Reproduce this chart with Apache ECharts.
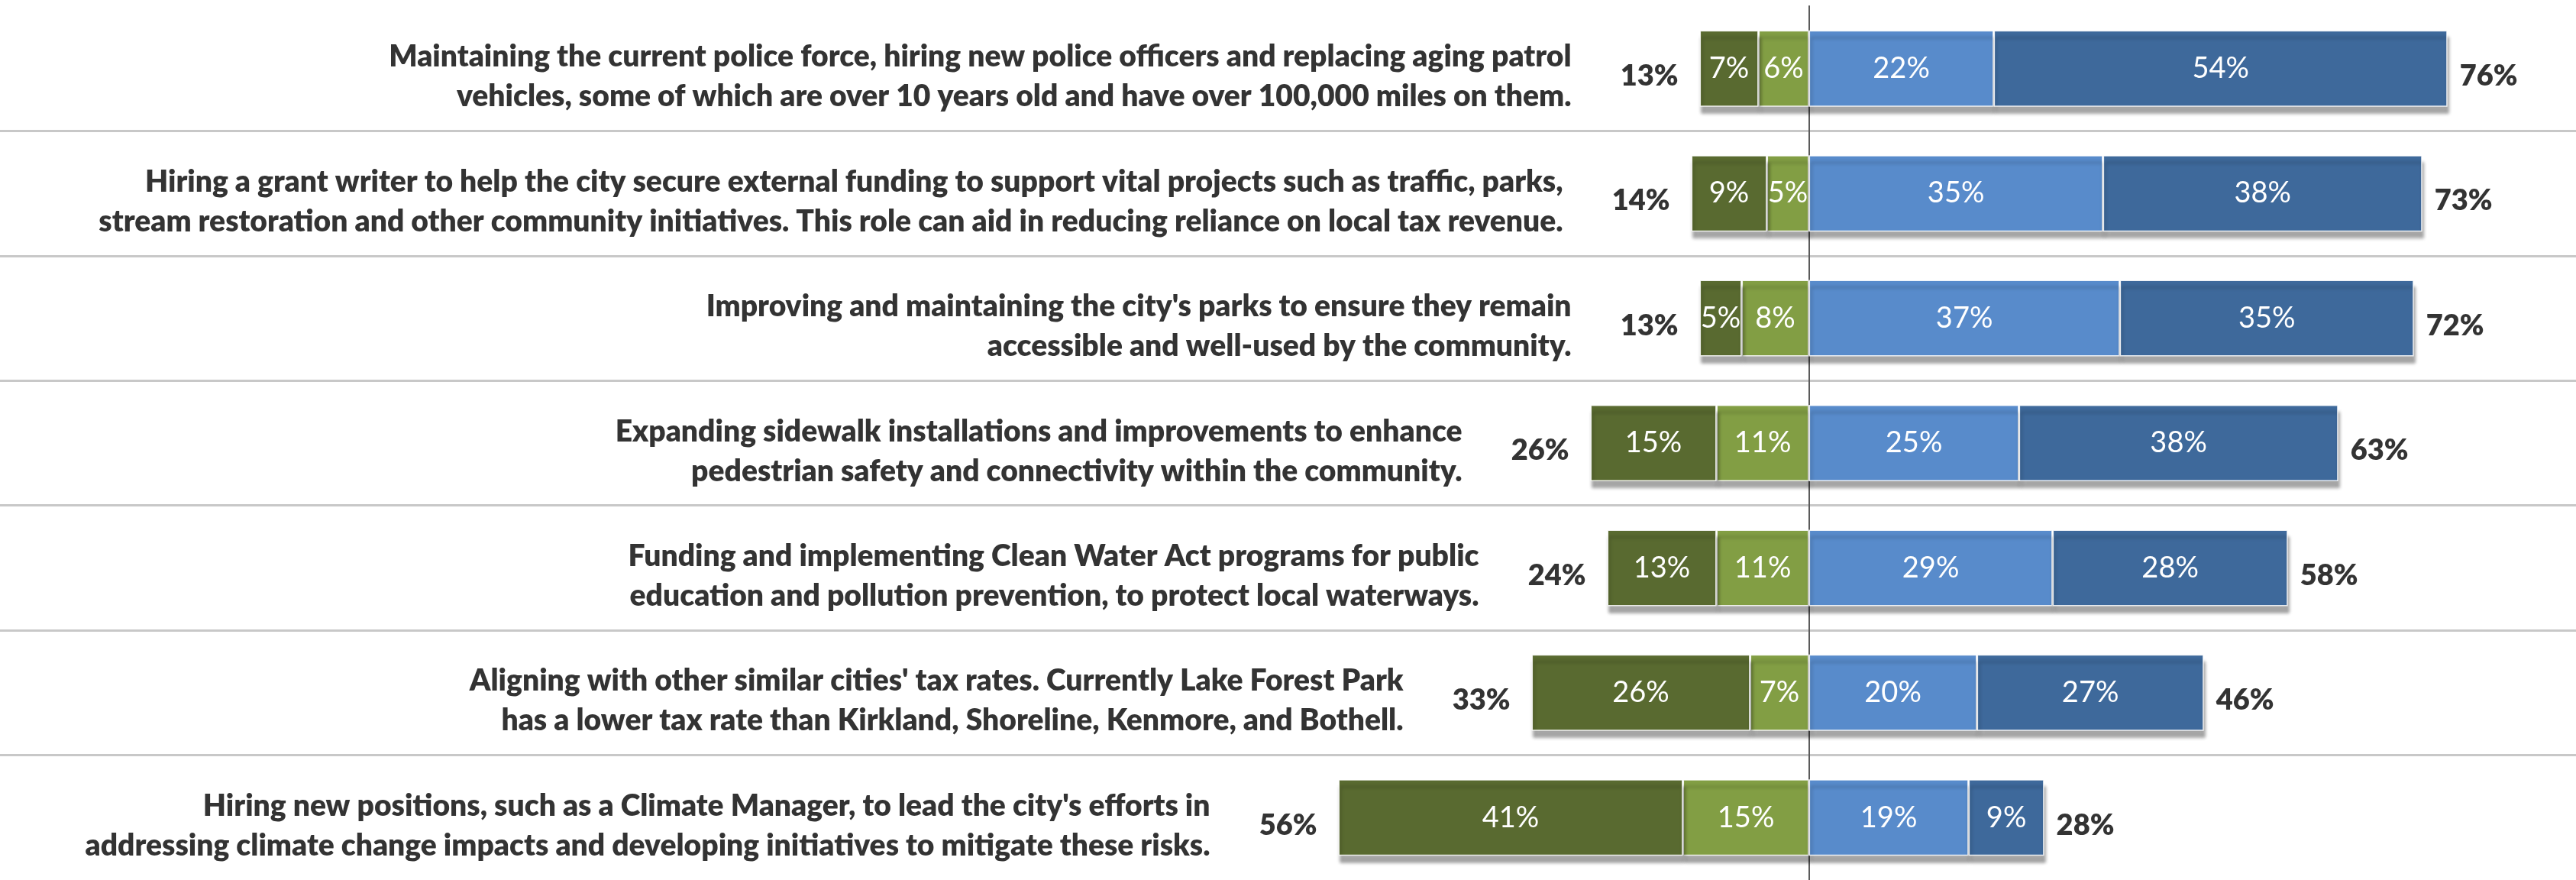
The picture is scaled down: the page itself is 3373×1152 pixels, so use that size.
<!DOCTYPE html>
<html>
<head>
<meta charset="utf-8">
<script src="https://cdn.jsdelivr.net/npm/echarts@6/dist/echarts.min.js"></script>
<style>
html,body{margin:0;padding:0;background:#ffffff;}
#chart{width:3373px;height:1152px;}
</style>
</head>
<body>
<div id="chart"></div>
<script>
const categories = [
  "Maintaining the current police force, hiring new police officers and replacing aging patrol\nvehicles, some of which are over 10 years old and have over 100,000 miles on them.",
  "Hiring a grant writer to help the city secure external funding to support vital projects such as traffic, parks,\nstream restoration and other community initiatives. This role can aid in reducing reliance on local tax revenue.",
  "Improving and maintaining the city's parks to ensure they remain\naccessible and well-used by the community.",
  "Expanding sidewalk installations and improvements to enhance\npedestrian safety and connectivity within the community.",
  "Funding and implementing Clean Water Act programs for public\neducation and pollution prevention, to protect local waterways.",
  "Aligning with other similar cities' tax rates. Currently Lake Forest Park\nhas a lower tax rate than Kirkland, Shoreline, Kenmore, and Bothell.",
  "Hiring new positions, such as a Climate Manager, to lead the city's efforts in\naddressing climate change impacts and developing initiatives to mitigate these risks."
];
const stronglyOppose = [7, 9, 5, 15, 13, 26, 41];
const somewhatOppose = [6, 5, 8, 11, 11, 7, 15];
const somewhatSupport = [22, 35, 37, 25, 29, 20, 19];
const stronglySupport = [54, 38, 35, 38, 28, 27, 9];
const opposeTotal = [13, 14, 13, 26, 24, 33, 56];
const supportTotal = [76, 73, 72, 63, 58, 46, 28];

const FONT = 'Lato, "Open Sans", sans-serif';
const leftEnd = categories.map((c, i) => [-(stronglyOppose[i] + somewhatOppose[i]), i]);
const rightEnd = categories.map((c, i) => [somewhatSupport[i] + stronglySupport[i], i]);

function barSeries(name, data, color, neg) {
  return {
    name: name,
    type: 'bar',
    stack: 'all',
    barWidth: 100,
    data: data.map(v => neg ? -v : v),
    itemStyle: {
      color: color,
      borderColor: 'rgba(255,255,255,0.85)',
      borderWidth: 1.5,
      shadowColor: 'rgba(0,0,0,0.35)',
      shadowOffsetY: 9,
      shadowOffsetX: 2,
      shadowBlur: 4
    },
    label: {
      show: true,
      position: 'inside',
      color: '#ffffff',
      fontFamily: FONT,
      fontSize: 38,
      formatter: p => Math.abs(p.value) + '%'
    }
  };
}

const chart = echarts.init(document.getElementById('chart'), null, {renderer: 'canvas'});
chart.setOption({
  backgroundColor: '#ffffff',
  animation: false,
  grid: {left: 0, right: 0, top: 8, bottom: -5, containLabel: false},
  xAxis: {
    type: 'value', min: -215.3, max: 91.3, show: false
  },
  yAxis: [
    {
      type: 'category', data: categories, inverse: true,
      axisLine: {show: true, onZero: true, lineStyle: {color: '#5a5a5a', width: 2}},
      axisTick: {show: false}, axisLabel: {show: false}, splitLine: {show: false}
    },
    {
      type: 'value', min: 0, max: 7, interval: 1, inverse: true, position: 'right',
      axisLine: {show: false}, axisTick: {show: false}, axisLabel: {show: false},
      splitLine: {show: true, showMinLine: false, showMaxLine: false, lineStyle: {color: '#c8c8c8', width: 3}}
    }
  ],
  series: [
    barSeries('Somewhat oppose', somewhatOppose, '#829E44', true),
    barSeries('Strongly oppose', stronglyOppose, '#596A30', true),
    barSeries('Somewhat support', somewhatSupport, '#588BCB', false),
    barSeries('Strongly support', stronglySupport, '#3E699B', false),
    {
      name: 'Oppose total', type: 'scatter', symbolSize: 0, silent: true, z: 5,
      data: leftEnd,
      label: {
        show: true, position: 'left', distance: 28, offset: [0, 10],
        color: '#000000', fontFamily: FONT, fontWeight: 800, fontSize: 38,
        formatter: p => opposeTotal[p.dataIndex] + '%'
      }
    },
    {
      name: 'Support total', type: 'scatter', symbolSize: 0, silent: true, z: 5,
      data: rightEnd,
      label: {
        show: true, position: 'right', distance: 16, offset: [0, 10],
        color: '#000000', fontFamily: FONT, fontWeight: 800, fontSize: 38,
        formatter: p => supportTotal[p.dataIndex] + '%'
      }
    },
    {
      name: 'Statement', type: 'scatter', symbolSize: 0, silent: true, z: 5,
      data: leftEnd,
      label: {
        show: true, position: 'left', distance: 168, offset: [0, 11],
        color: '#000000', fontFamily: FONT, fontWeight: 800, fontSize: 39,
        lineHeight: 52, align: 'right',
        formatter: p => categories[p.dataIndex]
      }
    }
  ]
});
</script>
</body>
</html>
